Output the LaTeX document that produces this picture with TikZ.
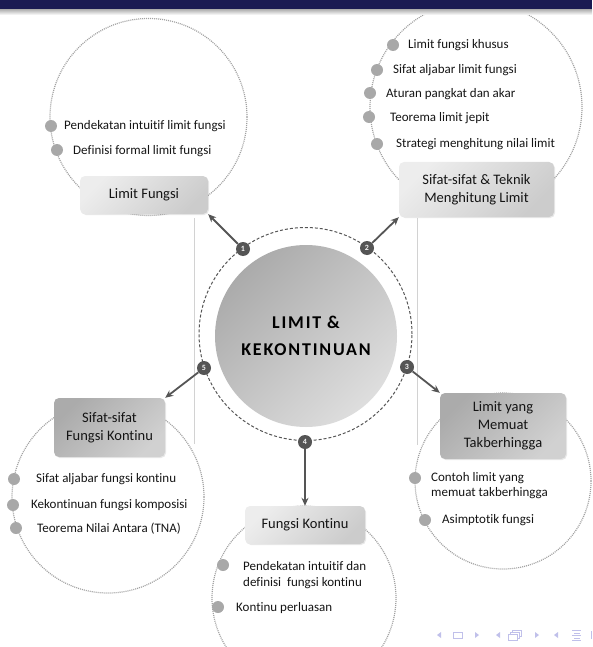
\documentclass[tikz,border=0pt]{standalone}
\usepackage{fontspec}
\setmainfont{Carlito}[Ligatures=NoCommon]
\usetikzlibrary{arrows.meta,shadows}
\definecolor{navy}{RGB}{26,26,82}
\definecolor{darkg}{RGB}{85,85,85}
\definecolor{dotg}{RGB}{160,160,160}
\definecolor{bulg}{RGB}{168,168,168}
\definecolor{navc}{RGB}{192,192,234}
\definecolor{txt}{RGB}{20,20,20}
\begin{document}
\begin{tikzpicture}[x=1pt,y=-1pt,
  dotcirc/.style={circle, draw=dotg, line width=1.2pt, dash pattern=on 1pt off 1pt, inner sep=0pt},
  bul/.style={circle, fill=bulg, minimum size=12pt, inner sep=0pt},
  itm/.style={anchor=west, inner sep=0pt, text=txt, font=\fontsize{13}{15.5}\selectfont, align=left},
  itmm/.style={itm, anchor=north west},
  boxbase/.style={rounded corners=5pt, align=center, text=txt, font=\fontsize{14.5}{18}\selectfont, inner sep=0pt,
    drop shadow={opacity=0.18, shadow xshift=1pt, shadow yshift=-1pt}},
  lightbox/.style={boxbase, top color=gray!14, bottom color=gray!40, shading angle=45},
  darkbox/.style={boxbase, top color=gray!66, bottom color=gray!36, shading angle=45},
  badge/.style={circle, fill=darkg, minimum size=14pt, inner sep=0pt, text=white!92!gray, font=\fontsize{8}{8}\selectfont\bfseries},
  conn/.style={draw=darkg, line width=1.8pt, -{Stealth[length=8pt,width=7pt]}},
  navtri/.style={fill=navc},
  navbox/.style={draw=navc, line width=0.9pt}
]
\useasboundingbox (0,0) rectangle (592,647);

% vertical guide lines
\coordinate (lt) at (194,218); \coordinate (lb) at (194,444);
\coordinate (rt) at (417,218); \coordinate (rb) at (417,445);
\draw[gray!35, line width=0.6pt] (lt) -- (lb) (rt) -- (rb);

% dotted circles
\node[dotcirc, minimum size=197pt] (cA) at (148.5,117) {};
\node[dotcirc, minimum size=212pt] (cB) at (476,107) {};
\node[dotcirc, minimum size=176pt] (cC) at (503,481) {};
\node[dotcirc, minimum size=184pt] (cD) at (304,598) {};
\node[dotcirc, minimum size=192pt] (cE) at (108,497) {};

% top bar
\fill[navy] (0,0) rectangle (592,10);
\shade[top color=gray!55, bottom color=white] (0,10) rectangle (592,15);

% central
\node[circle, draw=darkg, line width=1pt, dash pattern=on 3pt off 2pt, minimum size=213pt, inner sep=0pt] (ring) at (305.5,334) {};
\node[circle, minimum size=182pt, inner sep=0pt, top color=gray!66, bottom color=gray!26, shading angle=45,
  align=center, text=black, font=\fontsize{18}{27}\selectfont\bfseries\addfontfeature{LetterSpace=10}] (core) at (306,336) {LIMIT \&\\KEKONTINUAN};

% boxes
\node[lightbox, minimum width=128pt, minimum height=38pt] (bA) at (144,195) {Limit Fungsi};
\node[lightbox, minimum width=155pt, minimum height=55pt] (bB) at (476.5,189.5) {Sifat-sifat \& Teknik\\Menghitung Limit};
\node[darkbox, minimum width=126pt, minimum height=66pt] (bC) at (503,426) {Limit yang\\Memuat\\Takberhingga};
\node[lightbox, minimum width=120pt, minimum height=38pt] (bD) at (305,525) {Fungsi Kontinu};
\node[darkbox, minimum width=111pt, minimum height=59pt] (bE) at (109.5,427.5) {Sifat-sifat\\Fungsi Kontinu};

% badges
\node[badge] (n1) at (243,249) {1};
\node[badge] (n2) at (367,248) {2};
\node[badge] (n3) at (407,367) {3};
\node[badge] (n4) at (305,442) {4};
\node[badge] (n5) at (204,368) {5};

% connectors
\draw[conn] (n1) -- (bA.south east);
\draw[conn] (n2) -- (bB.south west);
\draw[conn] (n3) -- (bC.north west);
\draw[conn] (n4) -- (bD.north);
\draw[conn] (n5) -- (bE.north east);

% items A
\node[bul] (a1) at (51,126) {};  \node[itm] (ta1) at (64,126) {Pendekatan intuitif limit fungsi};
\node[bul] (a2) at (57,150) {};  \node[itm] (ta2) at (73,151) {Definisi formal limit fungsi};

% items B
\node[bul] (b1) at (393,45) {};  \node[itm] (tb1) at (408,45) {Limit fungsi khusus};
\node[bul] (b2) at (377,70) {};  \node[itm] (tb2) at (393,70) {Sifat aljabar limit fungsi};
\node[bul] (b3) at (370,93) {};  \node[itm] (tb3) at (386,94) {Aturan pangkat dan akar};
\node[bul] (b4) at (369,117) {}; \node[itm] (tb4) at (390,118) {Teorema limit jepit};
\node[bul] (b5) at (377,144) {}; \node[itm] (tb5) at (396,144) {Strategi menghitung nilai limit};

% items C
\node[bul] (c1) at (415,478) {}; \node[itmm] (tc1) at (431,472) {Contoh limit yang\\memuat takberhingga};
\node[bul] (c2) at (425,520) {}; \node[itm] (tc2) at (442,520) {Asimptotik fungsi};

% items D
\node[bul] (d1) at (223,565) {}; \node[itmm] (td1) at (243,561.5) {Pendekatan intuitif dan\\definisi\ \ fungsi kontinu};
\node[bul] (d2) at (218,607) {}; \node[itm] (td2) at (236,608) {Kontinu perluasan};

% items E
\node[bul] (e1) at (14,479) {};  \node[itm] (te1) at (36,479) {Sifat aljabar fungsi kontinu};
\node[bul] (e2) at (13,505) {};  \node[itm] (te2) at (31,505) {Kekontinuan fungsi komposisi};
\node[bul] (e3) at (16,528) {};  \node[itm] (te3) at (37,529) {Teorema Nilai Antara (TNA)};

% navigation symbols
\fill[navtri] (441,632) -- (441,638) -- (437,635) -- cycle;
\draw[navbox] (453,632) rectangle (462,638.5);
\fill[navtri] (475,632) -- (475,638) -- (479,635) -- cycle;
\fill[navtri] (500,632) -- (500,638) -- (496,635) -- cycle;
\draw[navbox, fill=white] (512,630) rectangle (521,636);
\draw[navbox, fill=white] (510,632) rectangle (519,638);
\draw[navbox, fill=white] (508,634) rectangle (517,640.5);
\fill[navtri] (535,632) -- (535,638) -- (539,635) -- cycle;
\fill[navtri] (558,632) -- (558,638) -- (554,635) -- cycle;
\draw[navbox] (572,630.5) -- (581,630.5) (574,633) -- (580,633) (572,635.5) -- (581,635.5) (574,638) -- (580,638) (572,640.5) -- (581,640.5);
\fill[navtri] (591,631) rectangle (592,639);
\end{tikzpicture}
\end{document}
